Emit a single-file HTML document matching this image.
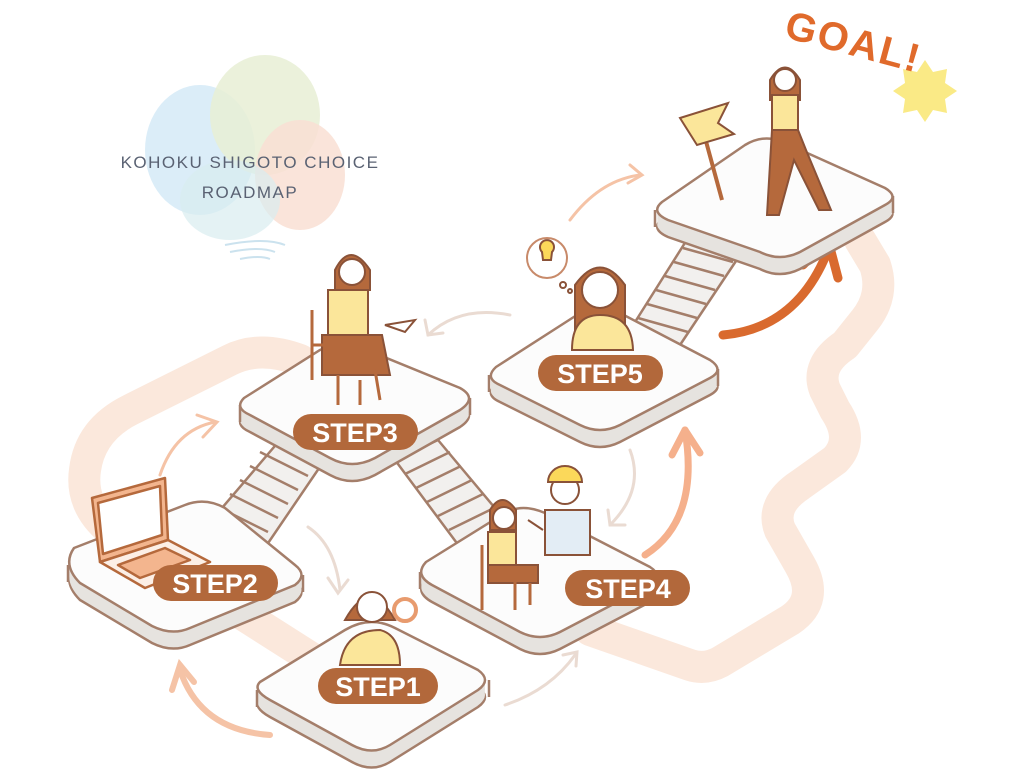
<!DOCTYPE html>
<html><head><meta charset="utf-8"><style>
html,body{margin:0;padding:0;background:#fff}
svg{display:block}
text{font-family:"Liberation Sans",sans-serif}
</style></head><body>
<svg width="1024" height="776" viewBox="0 0 1024 776" xmlns="http://www.w3.org/2000/svg" xmlns:xlink="http://www.w3.org/1999/xlink">
<defs>
<path id="p1" d="M260,682 L345,630 Q370,615 395,628 L478,670 Q492,680 478,690 L390,745 Q372,756 352,745 L270,700 Q252,690 260,682 Z"/>
<path id="p2" d="M74,548 L185,505 Q205,497 225,508 L295,565 Q308,575 295,585 L190,628 Q172,636 152,626 L80,583 Q62,565 74,548 Z"/>
<path id="p3" d="M244,398 L320,350 Q340,340 362,348 L460,388 Q478,398 460,410 L375,458 Q352,470 330,458 L250,415 Q234,408 244,398 Z"/>
<path id="p4" d="M426,562 L505,513 Q522,503 545,513 L650,567 Q664,576 650,585 L560,632 Q540,642 520,632 L432,585 Q414,575 426,562 Z"/>
<path id="p5" d="M496,367 L580,313 Q600,301 620,313 L710,360 Q725,370 710,378 L620,425 Q600,435 580,425 L500,385 Q484,378 496,367 Z"/>
<path id="p6" d="M662,202 L745,145 Q765,133 785,143 L885,188 Q900,197 885,205 L800,252 Q780,262 760,252 L668,220 Q650,212 662,202 Z"/>
</defs>
<rect width="1024" height="776" fill="#fff"/>
<!-- blobs -->
<ellipse cx="200" cy="150" rx="55" ry="65" fill="#d7ebf7" opacity="0.9"/>
<ellipse cx="265" cy="115" rx="55" ry="60" fill="#e8efd5" opacity="0.85"/>
<ellipse cx="300" cy="175" rx="45" ry="55" fill="#f9dfd4" opacity="0.85"/>
<ellipse cx="230" cy="200" rx="50" ry="40" fill="#d8ecf0" opacity="0.7"/>
<path d="M225,245 q40,-8 60,0 M230,252 q30,-6 45,0 M240,259 q20,-4 30,0" stroke="#cbe2ee" stroke-width="2" fill="none"/>
<text x="250" y="168" font-size="17" fill="#5a6273" text-anchor="middle" letter-spacing="1.5">KOHOKU SHIGOTO CHOICE</text>
<text x="250" y="198" font-size="17" fill="#5a6273" text-anchor="middle" letter-spacing="1.5">ROADMAP</text>
<!-- peach road -->
<path d="M330,670 L110,530 Q80,505 85,470 Q90,430 130,410 L230,360 Q260,345 300,360" stroke="#fbe8dc" stroke-width="32" fill="none" stroke-linecap="round" stroke-linejoin="round"/>
<path d="M590,630 L690,665 Q705,670 720,662 L790,620 Q820,600 800,565 L780,530 Q770,505 800,485 L835,460 Q855,440 835,410 L825,390 Q815,365 845,345 L865,320 Q885,295 875,265 L860,240" stroke="#fbe8dc" stroke-width="32" fill="none" stroke-linecap="round" stroke-linejoin="round"/>
<!-- arrows light -->
<g stroke="#f5c3a6" stroke-width="3" fill="none" stroke-linecap="round">
<path d="M270,735 Q200,730 180,670" stroke-width="6"/><path d="M172,690 l8,-25 l14,17" stroke-width="6"/>
<path d="M505,705 Q550,690 575,655" stroke="#eadbd2"/><path d="M563,655 l14,-3 l-1,14" stroke="#eadbd2"/>
<path d="M570,220 Q600,180 640,175"/><path d="M630,165 l12,10 l-14,8"/>
<path d="M160,475 Q175,430 215,422"/><path d="M197,415 l20,7 l-14,15"/>
<path d="M510,315 Q460,305 428,335" stroke="#eadbd2"/><path d="M425,320 l3,15 l15,-2" stroke="#eadbd2"/>
<path d="M630,450 Q645,490 610,525" stroke="#eadbd2"/><path d="M608,510 l2,15 l15,0" stroke="#eadbd2"/>
<path d="M308,527 Q335,545 340,590" stroke="#eadbd2"/><path d="M328,578 l10,15 l10,-13" stroke="#eadbd2"/>
</g>
<path d="M645,555 Q700,520 685,430" stroke="#f5b08c" stroke-width="7" fill="none" stroke-linecap="round"/>
<path d="M672,455 l13,-25 l15,23" stroke="#f5b08c" stroke-width="7" fill="none" stroke-linecap="round" stroke-linejoin="round"/>
<path d="M723,335 Q800,328 830,245" stroke="#d96a2e" stroke-width="9" fill="none" stroke-linecap="round"/>
<path d="M803,265 l25,-25 l10,38" stroke="#d96a2e" stroke-width="9" fill="none" stroke-linecap="round" stroke-linejoin="round"/>
<!-- stairs -->
<g fill="#f2f0ee" stroke="#a47e6a" stroke-width="2.5" stroke-linejoin="round">
<path d="M210,522 L262,552 L328,455 L280,440 Z"/>
<path d="M395,460 L438,440 L505,520 L462,550 Z"/>
<path d="M630,330 L680,345 L740,255 L688,238 Z"/>
</g>
<g stroke="#a47e6a" stroke-width="2.5">
<path d="M220,508 l48,24 M230,494 l48,24 M240,480 l48,24 M250,466 l48,24 M260,452 l48,24 M270,440 l48,22"/>
<path d="M405,474 l45,-22 M416,488 l45,-22 M427,502 l45,-22 M438,516 l45,-22 M449,530 l45,-22"/>
<path d="M638,318 l50,14 M647,304 l50,14 M656,290 l50,14 M665,276 l50,14 M674,262 l50,14 M683,248 l50,14"/>
</g>
<!-- platforms -->
<g id="plats">
<g fill="#e6e3df" stroke="#a47e6a" stroke-width="2.5">
<use xlink:href="#p1" href="#p1" y="17"/><use xlink:href="#p2" href="#p2" y="17"/><use xlink:href="#p3" href="#p3" y="17"/>
<use xlink:href="#p4" href="#p4" y="17"/><use xlink:href="#p5" href="#p5" y="17"/><use xlink:href="#p6" href="#p6" y="17"/>
</g>
<g fill="#e6e3df">
<use href="#p1" y="3"/><use href="#p1" y="6"/><use href="#p1" y="9"/><use href="#p1" y="12"/><use href="#p1" y="15"/>
<use href="#p2" y="3"/><use href="#p2" y="6"/><use href="#p2" y="9"/><use href="#p2" y="12"/><use href="#p2" y="15"/>
<use href="#p3" y="3"/><use href="#p3" y="6"/><use href="#p3" y="9"/><use href="#p3" y="12"/><use href="#p3" y="15"/>
<use href="#p4" y="3"/><use href="#p4" y="6"/><use href="#p4" y="9"/><use href="#p4" y="12"/><use href="#p4" y="15"/>
<use href="#p5" y="3"/><use href="#p5" y="6"/><use href="#p5" y="9"/><use href="#p5" y="12"/><use href="#p5" y="15"/>
<use href="#p6" y="3"/><use href="#p6" y="6"/><use href="#p6" y="9"/><use href="#p6" y="12"/><use href="#p6" y="15"/>
</g>
<g stroke="#a47e6a" stroke-width="2.5">
<path d="M257,690 v17 M489,680 v17 M68,565 v17 M303,575 v17 M240,405 v17 M470,398 v17 M420,572 v17 M660,576 v17 M489,375 v17 M718,369 v17 M655,210 v17 M893,196 v17"/>
</g>
<g fill="#fcfcfc" stroke="#a47e6a" stroke-width="2.5">
<use href="#p1"/><use href="#p2"/><use href="#p3"/><use href="#p4"/><use href="#p5"/><use href="#p6"/>
</g>
</g>
<!-- laptop -->
<g stroke="#b5693c" stroke-width="2.5" stroke-linejoin="round">
<path d="M92,498 L165,478 L168,540 L100,562 Z" fill="#f3b58e"/>
<path d="M98,503 L160,486 L162,535 L103,554 Z" fill="#fff"/>
<path d="M100,562 L168,540 L210,562 L145,588 Z" fill="#fcefe6"/>
<path d="M118,565 L165,548 L190,560 L140,578 Z" fill="#f3b58e"/>
</g>
<!-- people (simplified) -->
<g stroke="#8a5238" stroke-width="2">
<path d="M345,620 q25,-45 50,0 z" fill="#b5693c"/>
<circle cx="372" cy="607" r="15" fill="#fff"/><path d="M340,665 q5,-35 40,-35 q20,5 20,35 z" fill="#fbe69a"/>
<circle cx="405" cy="610" r="11" fill="#fff" stroke="#e89b6e" stroke-width="4"/>
<path d="M335,270 q15,-30 35,0 v20 h-35z" fill="#b5693c"/><circle cx="352" cy="272" r="13" fill="#fff"/>
<path d="M328,290 h40 v45 h-40 z" fill="#fbe69a"/><path d="M322,335 h60 l8,40 h-68 z" fill="#b5693c"/>
<path d="M385,325 l30,-5 l-10,12 z" fill="#fff"/>
<path d="M312,310 v70 M312,345 h25 M338,375 v30 M360,380 v25 M375,370 l5,30" fill="none" stroke="#b5693c" stroke-width="3"/>
<path d="M490,510 q12,-20 26,0 v20 h-26z" fill="#b5693c"/><circle cx="504" cy="518" r="11" fill="#fff"/>
<path d="M488,532 h28 v35 h-28 z" fill="#fbe69a"/><path d="M488,565 h50 v18 h-50z" fill="#b5693c"/>
<path d="M482,545 v65 M515,580 v30 M530,583 v22" fill="none" stroke="#b5693c" stroke-width="3"/>
<circle cx="565" cy="490" r="14" fill="#fff"/><path d="M548,482 a17,16 0 0 1 34,0 z" fill="#fbd85a"/>
<path d="M545,510 h45 v45 h-45 z" fill="#e3edf5"/><path d="M528,520 l15,10" fill="none"/>
<path d="M575,285 q25,-35 50,0 v45 h-50z" fill="#b5693c"/><circle cx="600" cy="290" r="18" fill="#fff"/>
<path d="M572,350 q0,-35 28,-35 q32,0 33,35 z" fill="#fbe69a"/>
<circle cx="547" cy="258" r="20" fill="#fff" stroke="#c88a6a"/><path d="M542,252 a7,7 0 1 1 10,0 l-1,8 h-8z" fill="#fbd85a"/>
<circle cx="563" cy="285" r="3" fill="#fff"/><circle cx="570" cy="291" r="2" fill="#fff"/>
<path d="M770,80 q15,-25 30,0 v20 h-30z" fill="#b5693c"/><circle cx="785" cy="80" r="11" fill="#fff"/>
<path d="M772,95 h26 v35 h-26 z" fill="#fbe69a"/><path d="M772,130 h26 l8,20 l25,60 h-12 l-25,-50 l-15,55 h-12 z" fill="#b5693c"/>
<path d="M698,112 L722,200" fill="none" stroke="#b5693c" stroke-width="4"/>
<path d="M680,118 L728,103 L718,123 L734,134 L697,145 Z" fill="#fbe69a"/>
</g>
<!-- goal -->
<path d="M925,55 l8,12 14,-3 -2,14 12,8 -12,8 2,14 -14,-3 -8,12 -8,-12 -14,3 2,-14 -12,-8 12,-8 -2,-14 14,3 z" fill="#faea86" transform="translate(0,5)"/>
<text x="850" y="55" font-size="40" font-weight="bold" fill="#e06a2b" transform="rotate(15 850 55)" text-anchor="middle" letter-spacing="2">GOAL!</text>
<!-- labels -->
<g fill="#b2683b">
<rect x="318" y="668" width="120" height="36" rx="18"/>
<rect x="153" y="565" width="125" height="36" rx="18"/>
<rect x="293" y="414" width="125" height="36" rx="18"/>
<rect x="565" y="570" width="125" height="36" rx="18"/>
<rect x="538" y="355" width="125" height="36" rx="18"/>
</g>
<g fill="#fff" font-size="27" font-weight="bold" text-anchor="middle">
<text x="378" y="696">STEP1</text>
<text x="215" y="593">STEP2</text>
<text x="355" y="442">STEP3</text>
<text x="628" y="598">STEP4</text>
<text x="600" y="383">STEP5</text>
</g>
</svg>
</body></html>
